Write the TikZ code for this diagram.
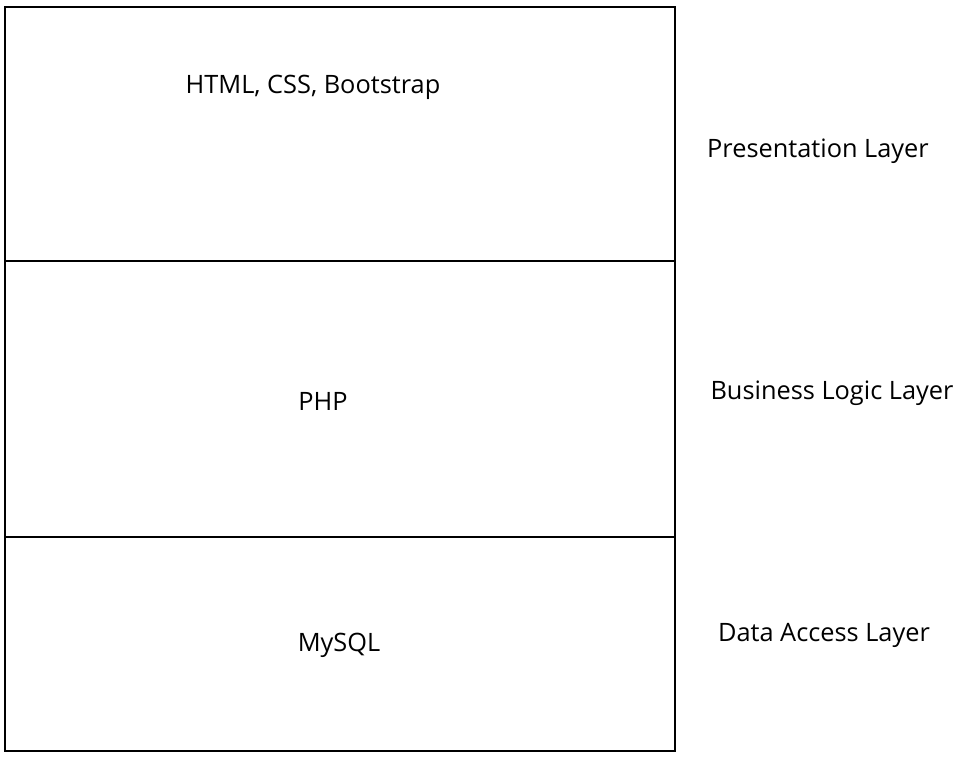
\documentclass[tikz,border=0pt]{standalone}
\usepackage{fontspec}
\setmainfont{Open Sans}
\usetikzlibrary{positioning}

\begin{document}
\begin{tikzpicture}[x=0.75pt, y=-0.75pt,
    layer/.style={draw, line width=1pt, inner sep=0pt, minimum width=502.5pt},
    txt/.style={font=\fontsize{19}{23}\selectfont, inner sep=0pt}]
    \useasboundingbox (0,0) rectangle (964,758);

    % Layers
    \node[layer, minimum height=190.5pt] (pres) at (340,134) {};
    \node[layer, minimum height=207pt] (logic) at (340,399) {};
    \node[layer, minimum height=160.5pt] (data) at (340,644) {};

    % Technologies
    \node[txt] (html) at (313,87) {HTML, CSS, Bootstrap};
    \node[txt] (php) at (323,401) {PHP};
    \node[txt] (mysql) at (339,645) {MySQL};

    % Layer names
    \node[txt] (presname) at (818,151) {Presentation Layer};
    \node[txt] (logicname) at (832,393) {Business Logic Layer};
    \node[txt] (dataname) at (824,635) {Data Access Layer};
\end{tikzpicture}
\end{document}
